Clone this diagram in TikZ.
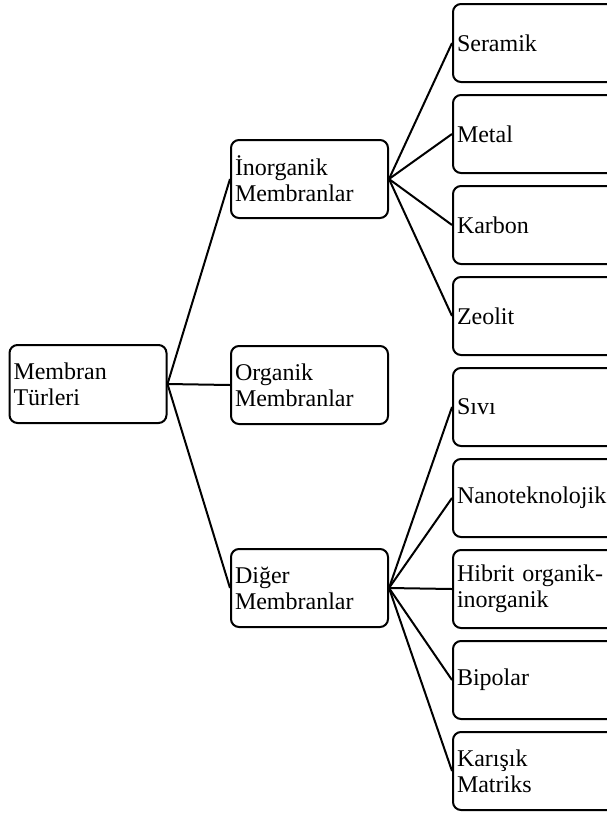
\documentclass[tikz,border=0pt]{standalone}
\usepackage{fontspec}
\setmainfont{Liberation Serif}
\usetikzlibrary{positioning}
\hyphenpenalty=10000
\begin{document}
\begin{tikzpicture}[x=1pt,y=1pt,line width=1pt,
  boxstyle/.style={draw,rounded corners=4pt,minimum height=39pt,text width=74.5pt,
    inner xsep=2pt,align=left,font=\fontsize{12}{13}\selectfont}]
  \useasboundingbox (0,0) rectangle (303,-407);
  % main types
  \node [boxstyle] (root) at (44,-192) {Membran\\Türleri};
  \node [boxstyle] (ino) at (154.75,-89.5) {İnorganik\\Membranlar};
  \node [boxstyle] (org) at (154.75,-192.5) {Organik\\Membranlar};
  \node [boxstyle] (dig) at (154.75,-294) {Diğer\\Membranlar};
  % sub types
  \foreach \t [count=\i] in {Seramik,Metal,Karbon,Zeolit,Sıvı,Nanoteknolojik,
      {Hibrit organik-\\inorganik},Bipolar,{Karışık\\Matriks}}
    \node [boxstyle,text width=78pt,anchor=west] (l\i) at (226,{-21.5-45.5*(\i-1)}) {\t};
  \foreach \c in {ino,org,dig}
    \draw (root.east) -- (\c.west);
  \foreach \i in {1,...,4}
    \draw (ino.east) -- (l\i.west);
  \foreach \i in {5,...,9}
    \draw (dig.east) -- (l\i.west);
\end{tikzpicture}
\end{document}
